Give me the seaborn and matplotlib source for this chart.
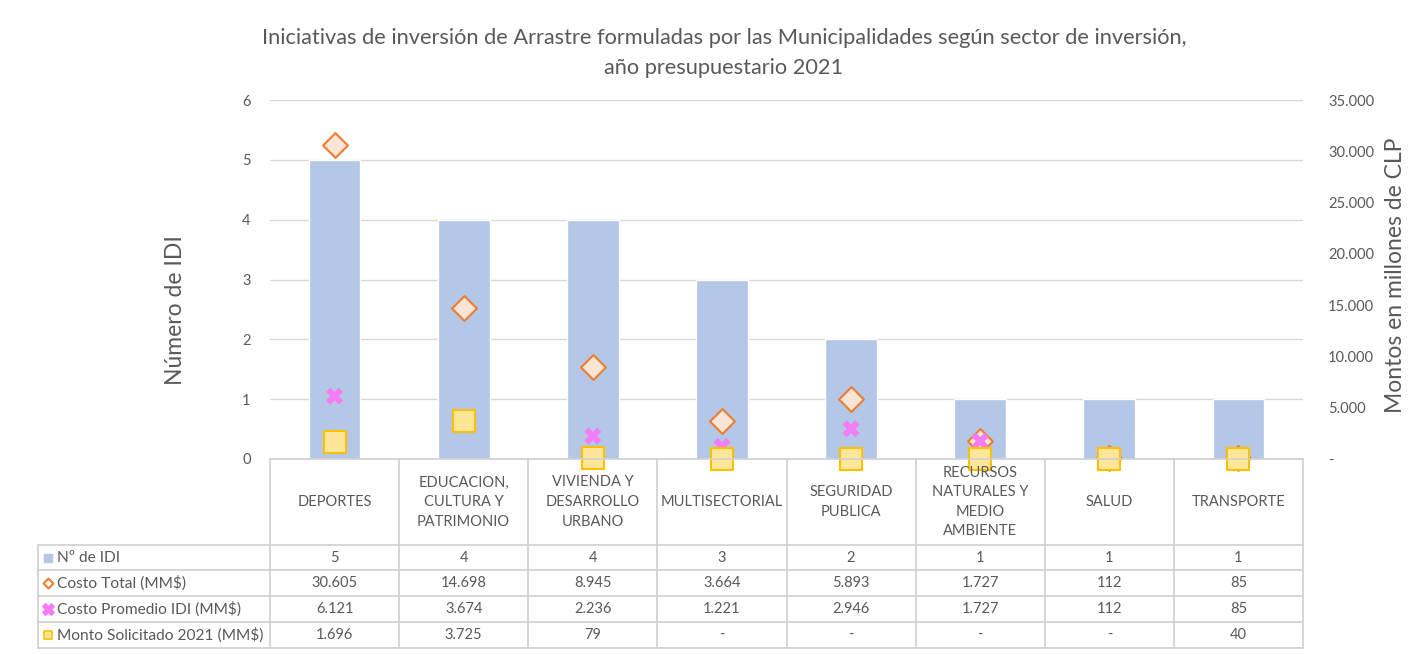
import numpy as np
import pandas as pd
import matplotlib
matplotlib.use("Agg")
import matplotlib.pyplot as plt
import seaborn as sns

sectores = ["DEPORTES", "EDUCACION,\nCULTURA Y\nPATRIMONIO", "VIVIENDA Y\nDESARROLLO\nURBANO",
            "MULTISECTORIAL", "SEGURIDAD\nPUBLICA", "RECURSOS\nNATURALES Y\nMEDIO\nAMBIENTE",
            "SALUD", "TRANSPORTE"]
num_idi = [5, 4, 4, 3, 2, 1, 1, 1]
costo_total = [30605, 14698, 8945, 3664, 5893, 1727, 112, 85]
costo_promedio = [6121, 3674, 2236, 1221, 2946, 1727, 112, 85]
monto_solicitado = [1696, 3725, 79, 0, 0, 0, 0, 40]

row_labels = ["Nº de IDI", "Costo Total (MM$)", "Costo Promedio IDI (MM$)", "Monto Solicitado 2021 (MM$)"]
right_ticks = [0, 5000, 10000, 15000, 20000, 25000, 30000, 35000]

BAR = "#B4C7E7"
ORANGE = "#ED7D31"
ORANGE_FILL = "#FBE5D6"
PINK = "#F47CF4"
YELLOW = "#FFE699"
YELLOW_EDGE = "#FFC000"
GRID = "#D9D9D9"
TXT = "#595959"


def fmt(v):
    if v == 0:
        return "-"
    return f"{v:,.0f}".replace(",", ".")


sns.set_style("white")
plt.rcParams["font.family"] = ["Lato", "DejaVu Sans"]

W, H = 1410, 654
fig = plt.figure(figsize=(W / 100, H / 100), dpi=100)

# plot area in pixels
L, R, T, B = 270, 1303, 100, 459
ax = fig.add_axes([L / W, 1 - B / H, (R - L) / W, (B - T) / H])

pos = np.arange(len(sectores))
df = pd.DataFrame({"pos": pos, "idi": num_idi, "total": costo_total,
                   "prom": costo_promedio, "monto": monto_solicitado})

sns.barplot(data=df, x="pos", y="idi", color=BAR, width=0.4, saturation=1,
            native_scale=True, ax=ax, zorder=2)
ax.set_xlim(-0.5, len(sectores) - 0.5)
ax.set_ylim(0, 6)
ax.set_yticks(range(7))
ax.yaxis.grid(True, color=GRID, linewidth=1, zorder=0)
ax.set_axisbelow(True)
ax.set_xticks([])
ax.set_xlabel("")
ax.set_ylabel("")
ax.tick_params(axis="y", length=0, labelsize=10.5, labelcolor=TXT, pad=14)
for s in ax.spines.values():
    s.set_visible(False)

ax2 = ax.twinx()
sns.scatterplot(data=df, x="pos", y="total", marker="D", s=160, color=ORANGE_FILL,
                edgecolor=ORANGE, linewidth=1.5, ax=ax2, zorder=3, clip_on=False)
sns.scatterplot(data=df, x="pos", y="prom", marker="X", s=150, color=PINK,
                edgecolor="none", linewidth=0, ax=ax2, zorder=4, clip_on=False)
sns.scatterplot(data=df, x="pos", y="monto", marker="s", s=235, color=YELLOW,
                edgecolor=YELLOW_EDGE, linewidth=1.5, ax=ax2, zorder=5, clip_on=False)
ax2.set_ylim(0, 35000)
ax2.set_xlim(-0.5, len(sectores) - 0.5)
ax2.set_yticks(right_ticks)
ax2.set_yticklabels([fmt(v) for v in right_ticks])
ax2.tick_params(axis="y", length=0, labelsize=10.5, labelcolor=TXT, pad=18)
ax2.set_ylabel("")
ax2.set_xlabel("")
for s in ax2.spines.values():
    s.set_visible(False)

# titles and axis labels
fig.text(724 / W, 1 - 38 / H, "Iniciativas de inversión de Arrastre formuladas por las Municipalidades según sector de inversión,",
         ha="center", va="center", fontsize=15.7, color=TXT)
fig.text(724 / W, 1 - 68 / H, "año presupuestario 2021",
         ha="center", va="center", fontsize=15.7, color=TXT)
fig.text(175 / W, 1 - 310 / H, "Número de IDI", rotation=90, ha="center", va="center",
         fontsize=16.5, color=TXT)
fig.text(1395 / W, 1 - 275 / H, "Montos en millones de CLP", rotation=90, ha="center",
         va="center", fontsize=16.5, color=TXT)

# data table below the plot
TL, TB = 38, 648
unit = (R - L) / len(sectores)
x_left = -0.5 - (L - TL) / unit
tab = fig.add_axes([TL / W, 1 - TB / H, (R - TL) / W, (TB - B) / H])
tab.set_xlim(x_left, len(sectores) - 0.5)
tab.set_ylim(TB, B)
tab.axis("off")

rows_y = [545, 570, 596, 622, 648]
lc = "#D0D0D0"
tab.plot([-0.5, len(sectores) - 0.5], [B, B], color=lc, lw=1.2, clip_on=False)
for y in rows_y:
    tab.plot([x_left, len(sectores) - 0.5], [y, y], color=lc, lw=1.2, clip_on=False)
for k in range(len(sectores) + 1):
    tab.plot([k - 0.5, k - 0.5], [B, TB], color=lc, lw=1.2, clip_on=False)
tab.plot([x_left, x_left], [rows_y[0], TB], color=lc, lw=1.2, clip_on=False)

for i, name in enumerate(sectores):
    tab.text(i, 502, name, ha="center", va="center", fontsize=10.5, color=TXT,
             linespacing=1.5)

series = [num_idi, costo_total, costo_promedio, monto_solicitado]
for r, (lab, vals) in enumerate(zip(row_labels, series)):
    yc = (rows_y[r] + rows_y[r + 1]) / 2
    for i, v in enumerate(vals):
        tab.text(i, yc, fmt(v) if r > 0 else str(v), ha="center", va="center",
                 fontsize=10.5, color=TXT)
    tab.text(x_left + 19 / unit, yc, lab, ha="left", va="center", fontsize=11.2, color=TXT)

kx = x_left + 10 / unit
ky = [(rows_y[r] + rows_y[r + 1]) / 2 for r in range(4)]
tab.scatter([kx], [ky[0]], marker="s", s=40, color=BAR, clip_on=False)
tab.scatter([kx], [ky[1]], marker="D", s=25, facecolor="white", edgecolor=ORANGE, linewidth=1.5, clip_on=False)
tab.scatter([kx], [ky[2]], marker="X", s=70, color=PINK, clip_on=False)
tab.scatter([kx], [ky[3]], marker="s", s=40, facecolor=YELLOW, edgecolor=YELLOW_EDGE, linewidth=1.2, clip_on=False)

fig.savefig("out.png", dpi=100)
